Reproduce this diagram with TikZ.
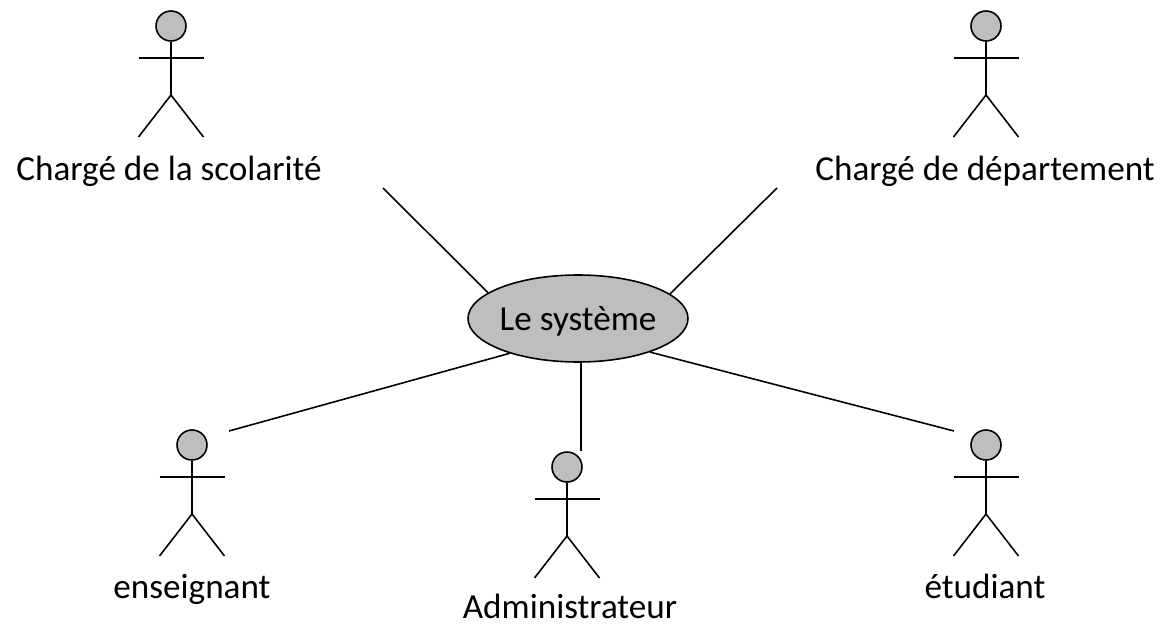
\documentclass[tikz,border=0pt]{standalone}
\usepackage{fontspec}
\usetikzlibrary{shapes.geometric}
\setmainfont{Carlito}
\definecolor{fillgray}{RGB}{190,190,190}
\tikzset{
  actorline/.style={draw=black,line width=0.9pt},
  actorhead/.style={draw=black,circle,fill=fillgray,line width=0.9pt,minimum size=0.6cm,inner sep=0pt},
  actorlabel/.style={font=\fontsize{20}{24}\selectfont,inner sep=0pt,anchor=base},
  link/.style={draw=black,line width=0.9pt},
  pics/actor/.style={code={
    \node[actorhead] (-head) at (0,0) {};
    \coordinate (-hip) at (0,-1.38);
    \draw[actorline] (-head.south) -- (-hip);
    \draw[actorline] (-0.65,-0.64) -- (0.65,-0.64);
    \draw[actorline] (-0.65,-2.22) -- (-hip) -- (0.65,-2.22);
  }}
}
\begin{document}
\begin{tikzpicture}
    \useasboundingbox (0,0) rectangle (23.2,-12.5);

    \pic (a1) at (3.42,-0.52) {actor};
    \pic (a2) at (19.72,-0.52) {actor};
    \pic (a3) at (3.84,-8.9) {actor};
    \pic (a4) at (11.34,-9.34) {actor};
    \pic (a5) at (19.72,-8.9) {actor};

    \node[actorlabel] (l1) at (3.38,-3.6) {Chargé de la scolarité};
    \node[actorlabel] (l2) at (19.7,-3.6) {Chargé de département};
    \node[actorlabel] (l3) at (3.84,-11.96) {enseignant};
    \node[actorlabel] (l4) at (11.4,-12.36) {Administrateur};
    \node[actorlabel] (l5) at (19.7,-11.96) {étudiant};

    \node[draw,ellipse,fill=fillgray,line width=0.9pt,minimum width=4.4cm,minimum height=1.74cm,inner sep=0pt,label={[actorlabel,anchor=center,yshift=-0.06cm]center:Le système}] (s) at (11.56,-6.37) {};

    \coordinate (c1) at (7.66,-3.76);
    \coordinate (c2) at (15.54,-3.76);
    \coordinate (c3) at (4.58,-8.62);
    \coordinate (c4) at (11.62,-9.02);
    \coordinate (c5) at (19.08,-8.62);

    \draw[link] (c1) -- (s.164);
    \draw[link] (c2) -- (s.15);
    \draw[link] (c3) -- (s.207);
    \draw[link] (c4) -- (s.south -| c4);
    \draw[link] (c5) -- (s.335);
\end{tikzpicture}
\end{document}
